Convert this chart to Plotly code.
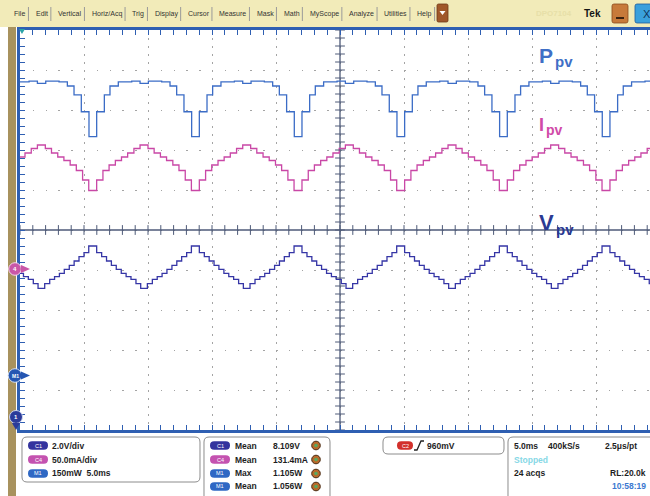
import numpy as np
import plotly.graph_objects as go

time_per_div_ms = 5.0
screen_div_visible = 630 / 64          # 9.84 div of the 10 are inside the window
period_ms = 8.02                       # period of the staircase waveforms
first_dip_ms = 5.68                    # time of first Ppv dip / Vpv peak

# one period of each staircase: step start (ms, relative to dip) and level
ppv_step_ms = [-0.29, 0.31, 0.91, 1.35, 2.00, 3.05, 3.70, 4.35, 5.39, 6.04, 6.56, 7.13]
ppv_step_w = [0.898, 0.991, 1.054, 1.0875, 1.103, 1.106, 1.097, 1.106, 1.103, 1.0875, 1.054, 0.991]

ipv_step_ms = [-0.31, 0.31, 0.80, 1.28, 1.77, 2.25, 2.73, 3.22, 3.70, 4.32, 4.80, 5.29,
               5.77, 6.26, 6.74, 7.23]
ipv_step_ma = [96.9, 110.0, 121.9, 128.75, 134.4, 138.75, 143.75, 149.4, 153.75, 149.4,
               143.75, 138.75, 134.4, 128.75, 121.9, 110.0]

vpv_step_ms = [-0.31, 0.31, 0.70, 1.08, 1.46, 1.84, 2.23, 2.61, 2.99, 3.38, 3.75, 4.27,
               4.66, 5.04, 5.42, 5.80, 6.19, 6.57, 6.95, 7.34]
vpv_step_v = [9.20, 8.865, 8.665, 8.45, 8.235, 8.035, 7.835, 7.665, 7.535, 7.315, 7.085,
              7.315, 7.535, 7.665, 7.835, 8.035, 8.235, 8.45, 8.665, 8.865]

# channel settings: units per division and ground position (div from centre)
c1_v_per_div, c1_ground_div = 2.0, -5.0
c4_ma_per_div, c4_ground_div = 50.0, -0.95
m1_w_per_div, m1_ground_div = 0.150, -3.65

# readout texts
menu_items = ["File", "Edit", "Vertical", "Horiz/Acq", "Trig", "Display", "Cursor",
              "Measure", "Mask", "Math", "MyScope", "Analyze", "Utilities", "Help"]
menu_x = [12, 33.6, 56, 89.6, 130.2, 152.6, 185.8, 217.1, 254.6, 281.6, 307.5, 347, 382.2, 415.1]
scale_badges = ["C1", "C4", "M1"]
scale_texts = ["2.0V/div", "50.0mA/div", "150mW  5.0ms"]
meas_badges = ["C1", "C4", "M1", "M1"]
meas_names = ["Mean", "Mean", "Max", "Mean"]
meas_values = ["8.109V", "131.4mA", "1.105W", "1.056W"]
trigger_text = "960mV"
acq_texts = ["5.0ms", "400kS/s", "2.5\u03bcs/pt"]
acq_state = "Stopped"
acq_count = "24 acqs"
record_len = "RL:20.0k"
clock_text = "10:58:19"

# ---------------- colours ----------------
PPV_C = "#3b6cc6"
IPV_C = "#c947a6"
VPV_C = "#3636a6"
BADGE_C = {"C1": "#34349e", "C4": "#c452b0", "M1": "#2f68c4", "C2": "#d2302c"}
FONT = "Liberation Sans, Arial, sans-serif"


def tile(step_ms, levels):
    t, y = [], []
    for k in range(-1, 7):
        base = first_dip_ms + k * period_ms
        for s, v in zip(step_ms, levels):
            t.append(base + s)
            y.append(v)
    return np.array(t), np.array(y)


t_p, p_w = tile(ppv_step_ms, ppv_step_w)
t_i, i_ma = tile(ipv_step_ms, ipv_step_ma)
t_v, v_v = tile(vpv_step_ms, vpv_step_v)

fig = go.Figure()
fig.add_trace(go.Scatter(x=t_i, y=i_ma / c4_ma_per_div + c4_ground_div, mode="lines",
                         line=dict(color=IPV_C, width=1.3, shape="hv"), hoverinfo="skip"))
fig.add_trace(go.Scatter(x=t_p, y=p_w / m1_w_per_div + m1_ground_div, mode="lines",
                         line=dict(color=PPV_C, width=1.3, shape="hv"), hoverinfo="skip"))
fig.add_trace(go.Scatter(x=t_v, y=v_v / c1_v_per_div + c1_ground_div, mode="lines",
                         line=dict(color=VPV_C, width=1.3, shape="hv"), hoverinfo="skip"))

# graticule centre-line ticks
xmax = screen_div_visible * time_per_div_ms
tick_t = np.arange(0, 50, time_per_div_ms / 5)
tick_d = np.arange(-5, 5.01, 0.2)
fig.add_trace(go.Scatter(x=tick_t, y=np.zeros_like(tick_t), mode="markers",
                         marker=dict(symbol="line-ns", size=7, line=dict(color="#4e5a78", width=1)),
                         hoverinfo="skip"))
fig.add_trace(go.Scatter(x=np.full_like(tick_d, 25.0), y=tick_d, mode="markers",
                         marker=dict(symbol="line-ew", size=7, line=dict(color="#4e5a78", width=1)),
                         hoverinfo="skip"))

# ---------------- pixel helpers for the chrome ----------------
L, W, T, H = 20, 630, 30, 400


def px(x):
    return (x - L) / W


def py(y):
    return (T + H - y) / H


shapes = []
annos = []


def rect(x0, y0, x1, y1, fill, line=None, lw=0):
    shapes.append(dict(type="rect", xref="paper", yref="paper", x0=px(x0), x1=px(x1),
                       y0=py(y1), y1=py(y0), fillcolor=fill,
                       line=dict(color=line or fill, width=lw), layer="above"))


def rrect(x0, y0, x1, y1, r, fill, line=None, lw=0):
    def p(x, y):
        return f"{px(x):.5f},{py(y):.5f}"
    path = (f"M{p(x0 + r, y0)} L{p(x1 - r, y0)} Q{p(x1, y0)} {p(x1, y0 + r)} "
            f"L{p(x1, y1 - r)} Q{p(x1, y1)} {p(x1 - r, y1)} L{p(x0 + r, y1)} "
            f"Q{p(x0, y1)} {p(x0, y1 - r)} L{p(x0, y0 + r)} Q{p(x0, y0)} {p(x0 + r, y0)} Z")
    shapes.append(dict(type="path", xref="paper", yref="paper", path=path, fillcolor=fill,
                       line=dict(color=line or fill, width=lw), layer="above"))


def poly(pts, fill):
    path = "M" + " L".join(f"{px(x):.5f},{py(y):.5f}" for x, y in pts) + " Z"
    shapes.append(dict(type="path", xref="paper", yref="paper", path=path, fillcolor=fill,
                       line=dict(color=fill, width=0), layer="above"))


def seg(x0, y0, x1, y1, color, w=1):
    shapes.append(dict(type="line", xref="paper", yref="paper", x0=px(x0), x1=px(x1),
                       y0=py(y0), y1=py(y1), line=dict(color=color, width=w), layer="above"))


def circ(cx, cy, r, fill, line=None, lw=0):
    shapes.append(dict(type="circle", xref="paper", yref="paper", x0=px(cx - r), x1=px(cx + r),
                       y0=py(cy + r), y1=py(cy - r), fillcolor=fill,
                       line=dict(color=line or fill, width=lw), layer="above"))


def txt(x, y, s, size=8, color="#1e1e1e", bold=True, anchor="left"):
    annos.append(dict(x=px(x), y=py(y), xref="paper", yref="paper", text=(f"<b>{s}</b>" if bold else s),
                      showarrow=False, xanchor=anchor, yanchor="middle",
                      font=dict(family=FONT, size=size, color=color)))


# centre lines
shapes.append(dict(type="line", xref="x", yref="y", x0=0, x1=xmax, y0=0, y1=0,
                   line=dict(color="#4e5a78", width=1.3), layer="between"))
shapes.append(dict(type="line", xref="x", yref="y", x0=25, x1=25, y0=-5, y1=5,
                   line=dict(color="#4e5a78", width=1.3), layer="between"))

# menu bar
rect(0, 0, 650, 27, "#f2ebb9")
for name, x in zip(menu_items, menu_x):
    txt(x, 14, name, size=7, color="#333333", bold=False)
for i in range(len(menu_x)):
    xs = (menu_x[i + 1] - 5.15) if i + 1 < len(menu_x) else 434.6
    seg(xs, 7, xs, 21, "#9a9a9a", 1)
rrect(437, 4, 448, 22, 1.5, "#a0582a", "#6e3a18", 0.8)
poly([(439.5, 11), (445.5, 11), (442.5, 15)], "#ffffff")
txt(574, 14, "DPO7104", size=8, color="#e7dfa8", bold=True, anchor="right")
txt(582, 14, "Tek", size=10, color="#151515", bold=True)
rrect(612, 4, 628, 23, 2, "#c77a3a", "#8a4a1c", 0.8)
seg(616, 18, 624, 18, "#3a2210", 2)
rrect(635, 4, 652, 23, 2, "#3aa0dc", "#1e5a9a", 0.8)
txt(641, 14, "X", size=11, color="#10325a", bold=False, anchor="left")

# left strip
rect(8, 27, 16, 496, "#a8925e")

# channel markers on the left
circ(15, 269, 6.3, "#c957a8", "#f3d7ea", 1)
txt(15, 269, "4", size=6, color="#ffffff", anchor="center")
poly([(21, 265), (30, 269), (21, 273)], "#c957a8")
circ(15, 375.5, 6.8, "#2456b2", "#cfdcf2", 1)
txt(15, 375.5, "M1", size=5, color="#ffffff", anchor="center")
poly([(21, 371.5), (30, 375.5), (21, 379.5)], "#2456b2")
circ(16, 417, 6.5, "#2b3b9a", "#d0d6ee", 1)
txt(16, 417, "1", size=6, color="#ffffff", anchor="center")
poly([(12, 423), (20, 423), (16, 430)], "#2b3b9a")
poly([(19, 29), (25, 29), (22, 34)], "#2aa3a8")

# waveform labels
txt(537, 56, "P", size=21, color="#3f6fc6")
txt(553, 62, "pv", size=15, color="#3f6fc6")
txt(537, 125, "I", size=18, color="#d04aa8")
txt(544, 130, "pv", size=14, color="#d04aa8")
txt(537, 222, "V", size=22, color="#2b3a93")
txt(554, 229, "pv", size=15, color="#2b3a93")

# ---------------- bottom readout panel ----------------
BORDER = "#8c8c8c"
rrect(22, 437, 200, 482, 5, "#ffffff", BORDER, 1)
rrect(204, 437, 330, 502, 5, "#ffffff", BORDER, 1)
rrect(383, 437, 504, 454, 5, "#ffffff", BORDER, 1)
rrect(508, 437, 662, 502, 5, "#ffffff", BORDER, 1)

rows = [445.5, 459.5, 473.5, 486.5]


def badge(x0, y, name, w=20):
    rrect(x0, y - 4.2, x0 + w, y + 4.2, 4.2, BADGE_C[name])
    txt(x0 + w / 2, y, name, size=5.5, color="#ffffff", bold=False, anchor="center")


for i, (b, s) in enumerate(zip(scale_badges, scale_texts)):
    badge(28, rows[i], b)
    txt(50, rows[i], s, size=8.5)

for i, (b, n, v) in enumerate(zip(meas_badges, meas_names, meas_values)):
    badge(210, rows[i], b)
    txt(233, rows[i], n, size=8.5)
    txt(271, rows[i], v, size=8.5)
    circ(316, rows[i], 4.3, "#b86a2a", "#4a2a10", 1)
    circ(316, rows[i], 1.8, "#5aa860")

badge(397, rows[0], "C2", w=16)
shapes.append(dict(type="path", xref="paper", yref="paper",
                   path=f"M{px(414):.5f},{py(450):.5f} L{px(417):.5f},{py(450):.5f} "
                        f"L{px(421):.5f},{py(441):.5f} L{px(424):.5f},{py(441):.5f}",
                   line=dict(color="#222222", width=1.3), layer="above"))
txt(425, rows[0], trigger_text, size=8.5)

txt(512, rows[0], acq_texts[0], size=8.5)
txt(546, rows[0], acq_texts[1], size=8.5)
txt(603, rows[0], acq_texts[2], size=8.5)
txt(512, rows[1], acq_state, size=8.5, color="#86d8e6")
txt(512, rows[2], acq_count, size=8.5)
txt(648, rows[2], record_len, size=8.5, anchor="right")
txt(648, rows[3], clock_text, size=8.5, color="#3a78d0", anchor="right")

AXC = "#2f5fb2"
fig.update_layout(
    width=650, height=496,
    margin=dict(l=L, r=0, t=T, b=496 - T - H),
    paper_bgcolor="#ffffff", plot_bgcolor="#ffffff",
    showlegend=False,
    shapes=shapes, annotations=annos,
    xaxis=dict(range=[0, xmax], dtick=time_per_div_ms, tick0=0, showgrid=True,
               gridcolor="#a4a4a4", gridwidth=1, griddash="1.5px,6.5px",
               showticklabels=False, ticks="inside", ticklen=5, tickcolor=AXC,
               showline=True, linecolor=AXC, linewidth=2.5, mirror="ticks", zeroline=False,
               minor=dict(dtick=time_per_div_ms / 5, ticks="inside", ticklen=5,
                          tickcolor=AXC, showgrid=False),
               fixedrange=True),
    yaxis=dict(range=[-5, 5], dtick=1, tick0=0, showgrid=True,
               gridcolor="#a4a4a4", gridwidth=1, griddash="1.5px,11.3px",
               showticklabels=False, ticks="inside", ticklen=5, tickcolor=AXC,
               showline=True, linecolor=AXC, linewidth=2.5, mirror=False, zeroline=False,
               minor=dict(dtick=0.2, ticks="inside", ticklen=5, tickcolor=AXC, showgrid=False),
               fixedrange=True),
)

fig.write_html("out.html", config={"displayModeBar": False},
               post_script="document.body.style.margin='0';document.body.style.overflow='hidden';")
